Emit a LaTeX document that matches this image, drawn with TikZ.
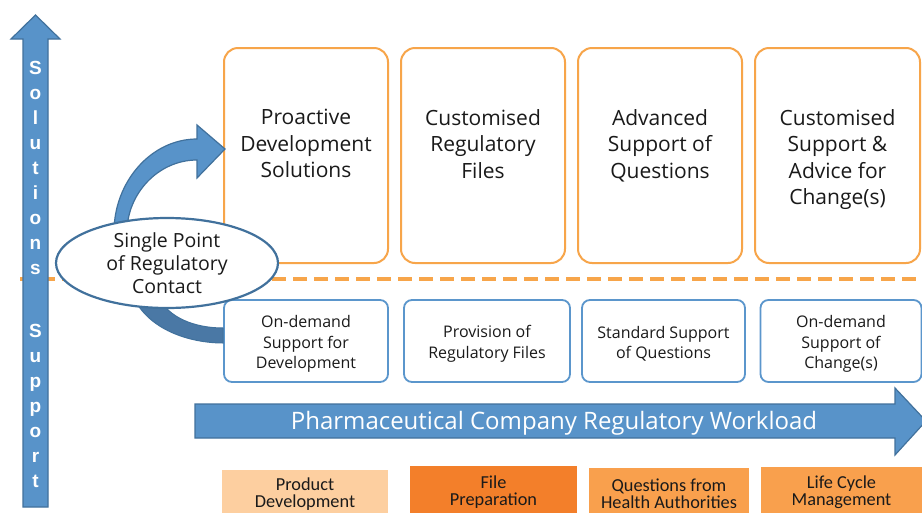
\documentclass[tikz,border=0pt]{standalone}
\usepackage{fontspec}
\setmainfont{Open Sans}
\newfontfamily\lettersfont{Liberation Sans}
\newfontfamily\tagfont{Carlito}
\usetikzlibrary{shapes.geometric}

\definecolor{solOrange}{HTML}{F7A54A}
\definecolor{supBlue}{HTML}{5B96CC}
\definecolor{arrowFill}{HTML}{5893C9}
\definecolor{arrowEdge}{HTML}{41719C}
\definecolor{arcDark}{HTML}{4A78A5}
\definecolor{tagPeach}{HTML}{FDCFA0}
\definecolor{tagDeep}{HTML}{F37F2A}
\definecolor{tagMid}{HTML}{F9A04D}
\definecolor{inkText}{HTML}{1A1A1A}

\tikzset{
  solbox/.style={draw=solOrange, line width=2pt, fill=white, rounded corners=14pt,
    minimum height=215pt, inner sep=0pt},
  soltext/.style={anchor=north, align=center, text=inkText, inner sep=0pt,
    font=\fontsize{21}{26.5}\selectfont},
  supbox/.style={draw=supBlue, line width=1.8pt, fill=white, rounded corners=8pt,
    minimum height=82pt, inner sep=0pt},
  suptext/.style={align=center, text=inkText, inner sep=0pt,
    font=\fontsize{16}{20.5}\selectfont},
  tagbox/.style={inner sep=0pt, align=center, text=inkText,
    font=\tagfont\fontsize{18.3}{17}\selectfont},
  bigarrow/.style={fill=arrowFill, draw=arrowEdge, line width=1.2pt, line join=miter},
  axisletter/.style={anchor=base, text=white, inner sep=0pt,
    font=\lettersfont\bfseries\fontsize{19}{19}\selectfont},
}

\begin{document}
\begin{tikzpicture}[x=1pt, y=-1pt]
\useasboundingbox (0,0) rectangle (922,512);
\fill[white] (0,0) rectangle (922,512);

% boundary between solutions and support
\coordinate (divL) at (20,279);
\coordinate (divR) at (922,279);
\draw[solOrange, line width=4pt, dash pattern=on 14pt off 7pt] (divL) -- (divR);

% vertical axis arrow
\draw[bigarrow] (23,507) -- (23,39) -- (11,39) -- (35.5,15) -- (60,39) -- (48,39) -- (48,507) -- cycle;
\foreach \ch [count=\k from 0] in {S,o,l,u,t,i,o,n,s}
  \node[axisletter] (sol\k) at (35.5,{74+25*\k}) {\ch};
\foreach \ch [count=\k from 0] in {S,u,p,p,o,r,t}
  \node[axisletter] (sup\k) at (35.5,{337+25*\k}) {\ch};

% solution boxes
\node[solbox, minimum width=164pt] (s1) at (306,155.5) {};
\node[solbox, minimum width=164pt] (s2) at (483,155.5) {};
\node[solbox, minimum width=164pt] (s3) at (660,155.5) {};
\node[solbox, minimum width=165pt] (s4) at (837.5,155.5) {};
\node[soltext] (s1t) at ([yshift=-62pt]s1.north) {Proactive\\Development\\Solutions};
\node[soltext] (s2t) at ([yshift=-62pt]s2.north) {Customised\\Regulatory\\Files};
\node[soltext] (s3t) at ([yshift=-62pt]s3.north) {Advanced\\Support of\\Questions};
\node[soltext] (s4t) at ([yshift=-62pt]s4.north) {Customised\\Support \&\\Advice for\\Change(s)};

% support boxes
\node[supbox, minimum width=164pt] (b1) at (306,341) {};
\node[supbox, minimum width=166pt] (b2) at (487,341) {};
\node[supbox, minimum width=163pt] (b3) at (663.5,341) {};
\node[supbox, minimum width=161pt] (b4) at (841,341) {};
\node[suptext] (b1t) at ([yshift=-3pt]b1.center) {On-demand\\Support for\\Development};
\node[suptext] (b2t) at ([yshift=-3pt]b2.center) {Provision of\\Regulatory Files};
\node[suptext] (b3t) at ([yshift=-3pt]b3.center) {Standard Support\\of Questions};
\node[suptext] (b4t) at ([yshift=-3pt]b4.center) {On-demand\\Support of\\Change(s)};

% curved arrow up to the solutions
\coordinate (hub) at (167,263);
\coordinate (headTip) at (225,149);
\draw[bigarrow] (114,232) .. controls (114,182) and (151,139) .. (197,139)
  -- (197,125) -- (headTip) -- (197,178) -- (197,160)
  .. controls (158,160) and (127,194) .. (127,232) -- cycle;

% curved band down to the support
\draw[fill=arcDark, draw=arrowEdge, line width=1pt]
  (133,296) .. controls (148,330) and (190,343) .. (b1.west |- 0,343)
  -- (b1.west |- 0,328) .. controls (195,328) and (168,318) .. (158,296) -- cycle;

% single point of contact
\node[ellipse, draw=arrowEdge, line width=2.2pt, fill=white, minimum width=222pt,
  minimum height=90pt, inner sep=0pt, align=center, text=inkText,
  font=\fontsize{19.5}{23}\selectfont] (hubnode) at (hub) {Single Point\\of Regulatory\\Contact};

% horizontal workload arrow
\draw[bigarrow] (195,404) -- (895,404) -- (895,388) -- (926,421) -- (895,455) -- (895,438) -- (195,438) -- cycle;
\node[text=white, font=\fontsize{24}{24}\selectfont, inner sep=0pt] (workload) at (554,423)
  {Pharmaceutical Company Regulatory Workload};

% activity tags
\fill[tagPeach] (222,470) rectangle (388,520);
\fill[tagDeep] (410,466) rectangle (577,520);
\fill[tagMid] (589,468) rectangle (749,520);
\fill[tagMid] (761,467) rectangle (922,520);
\node[tagbox] (g1) at (305,494.5) {Product\\Development};
\node[tagbox] (g2) at (493.5,492.5) {File\\Preparation};
\node[tagbox] (g3) at (669,493.5) {Questions from\\Health Authorities};
\node[tagbox] (g4) at (841.5,492.5) {Life Cycle\\Management};
\end{tikzpicture}
\end{document}
